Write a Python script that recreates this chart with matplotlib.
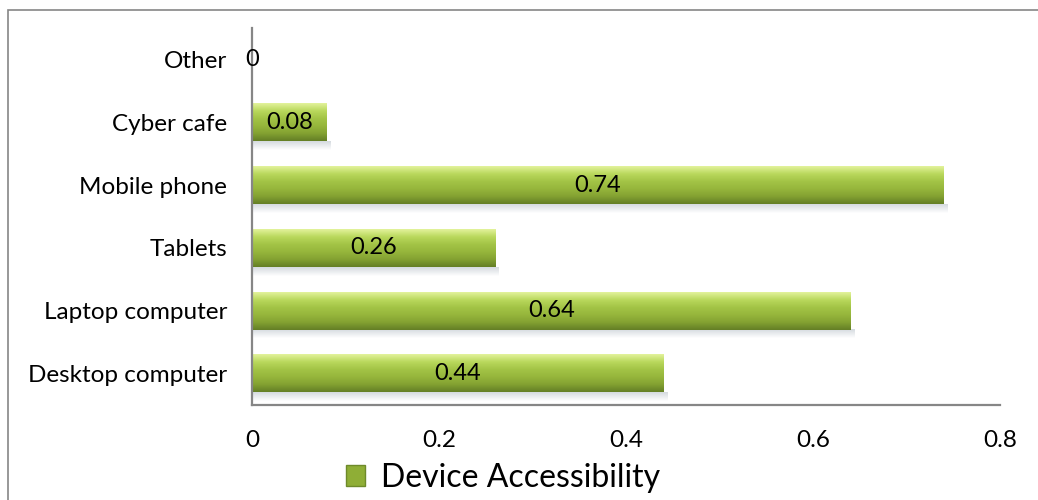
import numpy as np
import matplotlib.pyplot as plt
from matplotlib.colors import LinearSegmentedColormap
from matplotlib.patches import Rectangle

plt.rcParams['font.family'] = ['Lato', 'DejaVu Sans']

# Daten
categories = ['Desktop computer', 'Laptop computer', 'Tablets',
              'Mobile phone', 'Cyber cafe', 'Other']
values = [0.44, 0.64, 0.26, 0.74, 0.08, 0.0]
series_name = 'Device Accessibility'
xticks = [0, 0.2, 0.4, 0.6, 0.8]
xtick_labels = ['0', '0.2', '0.4', '0.6', '0.8']

fig = plt.figure(figsize=(10.38, 5), dpi=100)
ax = fig.add_axes([252 / 1038, 95 / 500, 748 / 1038, 377 / 500])

y = np.arange(len(categories))
bars = ax.barh(y, values, height=0.6, color='#9bbb3f', zorder=2)

# Verlauf fuer die Balken (hell oben, dunkel unten)
green = LinearSegmentedColormap.from_list(
    'bar_green', ['#647f26', '#84a232', '#96b63c', '#a3c446', '#b9d85c', '#e2f29a'])
shade = LinearSegmentedColormap.from_list('shade', ['#ffffff', '#d0d6dc'])
grad = np.linspace(0, 1, 64).reshape(-1, 1)
for b in bars:
    x0, y0 = b.get_x(), b.get_y()
    w, h = b.get_width(), b.get_height()
    if w <= 0:
        continue
    b.set_facecolor('none')
    ax.imshow(grad, cmap=green, aspect='auto', origin='lower',
              extent=[x0, x0 + w, y0, y0 + h], zorder=2)
    # Schatten unter dem Balken
    ax.imshow(grad, cmap=shade, aspect='auto', origin='lower',
              extent=[x0, x0 + w + 0.004, y0 - 0.14, y0], zorder=1, alpha=0.9)

# Werte-Beschriftungen
for yi, v in zip(y, values):
    ax.text(v / 2, yi, f'{v:g}', ha='center', va='center',
            fontsize=17, color='black', zorder=3)

ax.set_xlim(0, 0.8)
ax.set_ylim(-0.5, len(categories) - 0.5)
ax.set_yticks(y)
ax.set_yticklabels(categories, fontsize=17.5)
ax.set_xticks(xticks)
ax.set_xticklabels(xtick_labels, fontsize=17.5)
ax.tick_params(length=0, pad=18, axis='y')
ax.tick_params(length=0, pad=18, axis='x')

for s in ['top', 'right']:
    ax.spines[s].set_visible(False)
for s in ['left', 'bottom']:
    ax.spines[s].set_color('#868686')
    ax.spines[s].set_linewidth(1.6)

# Legende
handle = Rectangle((0, 0), 1, 1, facecolor='#8fae36', edgecolor='#6e8a2a')
fig.legend([handle], [series_name], loc='center', bbox_to_anchor=(503 / 1038, 1 - 478 / 500),
           frameon=False, fontsize=23, handlelength=0.62, handleheight=0.62,
           handletextpad=0.5, borderpad=0)

# Rahmen um das Diagramm
fig.add_artist(Rectangle((8 / 1038, -0.1), 1.2, 0.1 + 490 / 500, transform=fig.transFigure,
                         fill=False, edgecolor='#868686', linewidth=1.2, clip_on=False))

fig.savefig('out.png', dpi=100)
